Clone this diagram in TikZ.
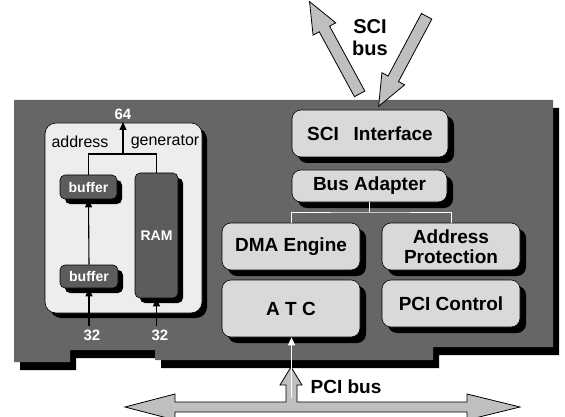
\documentclass[tikz,border=0pt]{standalone}
\usepackage{fontspec}
\setmainfont{Liberation Sans}
\usetikzlibrary{shapes.arrows,shadows,arrows.meta}
\definecolor{boardfill}{gray}{0.40}
\definecolor{lightfill}{gray}{0.85}
\definecolor{palefill}{gray}{0.93}
\definecolor{darkfill}{gray}{0.36}
\definecolor{busfill}{gray}{0.75}
\begin{document}
\begin{tikzpicture}[x=1pt,y=-1pt,
  lightbox/.style={rectangle, rounded corners=9pt, draw=black, line width=0.6pt, fill=lightfill,
    drop shadow={shadow xshift=6pt, shadow yshift=-6pt, fill=black, opacity=1},
    font=\fontsize{19}{20}\selectfont\bfseries, align=center, inner sep=0pt},
  darkbox/.style={rectangle, rounded corners=5pt, draw=black, line width=0.6pt, fill=darkfill,
    drop shadow={shadow xshift=5pt, shadow yshift=-5pt, fill=black, opacity=1},
    text=white, font=\fontsize{14}{15}\selectfont\bfseries, inner sep=0pt},
  fatarrow/.style={single arrow, draw=black, line width=0.8pt, fill=busfill, inner sep=5.5pt,
    single arrow head extend=7pt, single arrow tip angle=45, anchor=center},
  busshape/.style={draw=black, line width=0.8pt, fill=busfill, line join=miter},
  buslabel/.style={font=\fontsize{20}{21}\selectfont\bfseries, inner sep=0pt},
  wlabel/.style={text=white, font=\fontsize{15}{16}\selectfont\bfseries, inner sep=0pt},
  plain/.style={font=\fontsize{16}{17}\selectfont, inner sep=0pt},
  blackarrow/.style={draw=black, line width=1.1pt, -{Triangle[length=8pt,width=7pt]}},
  tee/.style={draw=black, line width=1.1pt},
  whitetee/.style={draw=white, line width=1pt},
]
\useasboundingbox (0,0) rectangle (565,417);
% board with shadow
\fill[black] ([shift={(6,8)}]14,100) -- ([shift={(6,8)}]553,100) -- ([shift={(6,8)}]553,347)
  -- ([shift={(6,8)}]433,347) -- ([shift={(6,8)}]433,360) -- ([shift={(6,8)}]155,360)
  -- ([shift={(6,8)}]155,350) -- ([shift={(6,8)}]70,350) -- ([shift={(6,8)}]70,362)
  -- ([shift={(6,8)}]14,362) -- cycle;
\fill[boardfill] (14,100) -- (553,100) -- (553,347) -- (433,347) -- (433,360) -- (155,360)
  -- (155,350) -- (70,350) -- (70,362) -- (14,362) -- cycle;

% address generator
\node[rectangle, rounded corners=11pt, draw=black, line width=0.6pt, fill=palefill,
  drop shadow={shadow xshift=5pt, shadow yshift=-5pt, fill=black, opacity=1},
  minimum width=157pt, minimum height=190pt, inner sep=0pt] (ag) at (123.5,218) {};
\node[plain] (addr) at (80,142) {address};
\node[plain] (gen) at (165,142) {generator};
\node[darkbox, minimum width=57pt, minimum height=24pt] (buf1) at (88.5,187) {buffer};
\node[darkbox, minimum width=58pt, minimum height=23pt] (buf2) at (89,276.5) {buffer};
\node[darkbox, minimum width=43pt, minimum height=125pt] (ram) at (156.5,235.5) {RAM};
\node[wlabel] (n64) at (123,114) {64};
\node[wlabel] (n32a) at (92,335) {32};
\node[wlabel] (n32b) at (160,335) {32};
\coordinate (agtee) at (123,154);
\draw[tee] (buf1.north) |- (agtee) -| (ram.north);
\draw[blackarrow] (agtee) -- (123,122);
\draw[blackarrow] (buf2.north) -- (buf1.south);
\draw[blackarrow] (n32a.north -| buf2.south) ++(0,-3) -- (buf2.south);
\draw[blackarrow] (n32b.north -| ram.south) ++(0,-3) -- (ram.south);

% right side boxes
\node[lightbox, minimum width=156pt, minimum height=47pt] (sci) at (370,133.5) {SCI\hspace{0.5em} Interface};
\node[lightbox, minimum width=155pt, minimum height=32pt] (ba) at (369.5,186) {Bus Adapter};
\node[lightbox, minimum width=138pt, minimum height=47pt] (dma) at (291,246.5) {DMA Engine};
\node[lightbox, minimum width=138pt, minimum height=47pt] (ap) at (451,246.5) {Address\\Protection};
\node[lightbox, minimum width=138pt, minimum height=57pt] (atc) at (291,308.5) {A T C};
\node[lightbox, minimum width=138pt, minimum height=47pt] (pcic) at (451,303.5) {PCI Control};
\coordinate (batee) at (369.5,212);
\draw[whitetee] (ba.south) -- (batee);
\draw[whitetee] (dma.north) |- (batee) -| (ap.north);

% SCI bus arrows
\node[fatarrow, minimum height=105pt, minimum width=25pt, rotate=118.5] (sciout) at (338,54) {};
\node[fatarrow, minimum height=102pt, minimum width=25pt, rotate=-118.1] (sciin) at (406,55) {};
\node[buslabel] (scilab) at (370,27) {SCI};
\node[buslabel] (buslab) at (370,48) {bus};

% PCI bus (double arrow with branch up to the board)
\draw[busshape] (125,407) -- (175,394) -- (175,402) -- (286,402) -- (286,385) -- (280,385)
  -- (291,367) -- (302,385) -- (297,385) -- (297,402) -- (467,402) -- (467,394) -- (520,407)
  -- (467,420) -- (467,412) -- (175,412) -- (175,420) -- cycle;
\coordinate (pcitip) at (291.5,398);
\draw[draw=white, line width=1.3pt, -{Triangle[length=8pt,width=7pt]}] (pcitip) -- (pcitip |- atc.south);
\node[buslabel, font=\fontsize{19}{20}\selectfont\bfseries] (pcilab) at (346,387) {PCI bus};
\end{tikzpicture}
\end{document}
